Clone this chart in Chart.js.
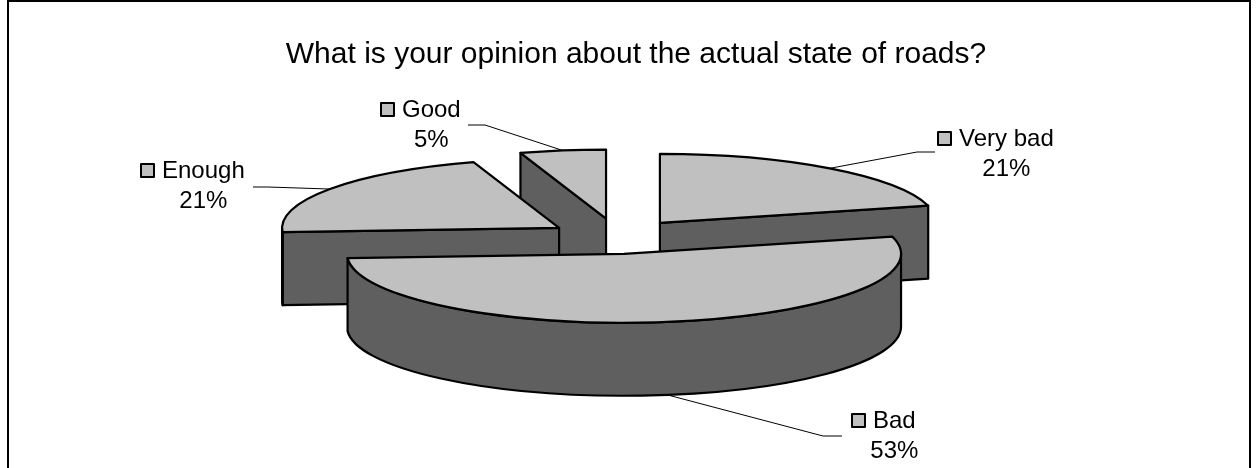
<!DOCTYPE html>
<html>
<head>
<meta charset="utf-8">
<script src="https://cdn.jsdelivr.net/npm/chart.js@4/dist/chart.umd.min.js"></script>
<style>
  html, body { margin: 0; padding: 0; background: #ffffff; }
  #wrap { width: 1256px; height: 468px; position: relative; }
</style>
</head>
<body>
<div id="wrap"><canvas id="c" width="1256" height="468"></canvas></div>
<script>
// ---- data ----
const categories = ['Very bad', 'Bad', 'Enough', 'Good'];
const percentValues = [21, 53, 21, 5];
const explodeOffsets = [70, 45, 70, 70];
const titleText = 'What is your opinion about the actual state of roads?';

// ---- label placement (text only) ----
const labelLayout = [
  { nameX: 959, nameY: 139, elbow: [917, 152], end: [935, 152] },
  { nameX: 873, nameY: 421, elbow: [823, 436], end: [842, 436] },
  { nameX: 162, nameY: 171, elbow: [268, 187], end: [253, 187] },
  { nameX: 402, nameY: 110, elbow: [485, 125], end: [468, 125] }
];

const FONT = "'Liberation Sans', Arial, sans-serif";
const TOP_COLOR = '#C0C0C0';
const SIDE_COLOR = '#5F5F5F';
const CX = 617, CY = 240;      // projected pie centre
const K = 0.249;               // ellipse squash
const KOFF = 0.31;             // squash of explosion offsets
const DEPTH = 73;

const pie3d = {
  id: 'pie3d',
  beforeDatasetsDraw(chart) {
    const ctx = chart.ctx;
    const meta = chart.getDatasetMeta(0);
    const items = meta.data.map((arc, i) => {
      const p = arc.getProps(['startAngle', 'endAngle', 'outerRadius'], true);
      const mid = (p.startAngle + p.endAngle) / 2;
      const off = arc.options.offset || 0;
      return {
        i, s: p.startAngle, e: p.endAngle, R: p.outerRadius, mid,
        ax: CX + off * Math.cos(mid),
        ay: CY + off * Math.sin(mid) * KOFF
      };
    });
    const P = (it, a, dz) => [it.ax + it.R * Math.cos(a), it.ay + K * it.R * Math.sin(a) + (dz || 0)];
    ctx.save();
    ctx.lineWidth = 2.2;
    ctx.lineJoin = 'round';
    ctx.strokeStyle = '#000';
    const order = items.slice().sort((a, b) => Math.sin(a.mid) - Math.sin(b.mid));
    order.forEach(it => {
      // radial faces
      const faces = [];
      if (Math.cos(it.s) < -1e-6) faces.push(it.s);
      if (Math.cos(it.e) > 1e-6) faces.push(it.e);
      faces.forEach(a => {
        const r = P(it, a);
        ctx.beginPath();
        ctx.moveTo(it.ax, it.ay);
        ctx.lineTo(r[0], r[1]);
        ctx.lineTo(r[0], r[1] + DEPTH);
        ctx.lineTo(it.ax, it.ay + DEPTH);
        ctx.closePath();
        ctx.fillStyle = SIDE_COLOR;
        ctx.fill();
        ctx.stroke();
      });
      // outer wall (front half only)
      [[0, Math.PI], [2 * Math.PI, 3 * Math.PI], [-2 * Math.PI, -Math.PI]].forEach(([lo, hi]) => {
        const a = Math.max(it.s, lo), b = Math.min(it.e, hi);
        if (b - a > 1e-4) {
          const pa = P(it, a), pb = P(it, b);
          ctx.beginPath();
          ctx.moveTo(pa[0], pa[1]);
          ctx.ellipse(it.ax, it.ay, it.R, it.R * K, 0, a, b, false);
          ctx.lineTo(pb[0], pb[1] + DEPTH);
          ctx.ellipse(it.ax, it.ay + DEPTH, it.R, it.R * K, 0, b, a, true);
          ctx.closePath();
          ctx.fillStyle = SIDE_COLOR;
          ctx.fill();
          ctx.stroke();
        }
      });
      // top face
      const ps = P(it, it.s);
      ctx.beginPath();
      ctx.moveTo(it.ax, it.ay);
      ctx.lineTo(ps[0], ps[1]);
      ctx.ellipse(it.ax, it.ay, it.R, it.R * K, 0, it.s, it.e, false);
      ctx.closePath();
      ctx.fillStyle = TOP_COLOR;
      ctx.fill();
      ctx.stroke();
    });

    // labels + leader lines
    items.forEach(it => {
      const L = labelLayout[it.i];
      const front = Math.sin(it.mid) > 0;
      const anchor = P(it, it.mid, front ? DEPTH : 0);
      ctx.beginPath();
      ctx.lineWidth = 1;
      ctx.moveTo(anchor[0], anchor[1]);
      ctx.lineTo(L.elbow[0], L.elbow[1]);
      ctx.lineTo(L.end[0], L.end[1]);
      ctx.stroke();

      ctx.font = '24px ' + FONT;
      ctx.fillStyle = '#000';
      ctx.textBaseline = 'middle';
      ctx.textAlign = 'left';
      const name = chart.data.labels[it.i];
      ctx.fillText(name, L.nameX, L.nameY);
      const w = ctx.measureText(name).width;
      // legend key square
      ctx.lineWidth = 2;
      ctx.fillStyle = TOP_COLOR;
      ctx.fillRect(L.nameX - 21, L.nameY - 7, 13, 13);
      ctx.strokeRect(L.nameX - 21, L.nameY - 7, 13, 13);
      ctx.fillStyle = '#000';
      ctx.textAlign = 'center';
      ctx.fillText(chart.data.datasets[0].data[it.i] + '%', L.nameX + w / 2, L.nameY + 30);
    });
    ctx.restore();
    return false;
  },
  afterDraw(chart) {
    const ctx = chart.ctx;
    ctx.save();
    ctx.lineWidth = 2;
    ctx.strokeStyle = '#000';
    ctx.strokeRect(8, 1, 1242, 500);
    ctx.restore();
  }
};

new Chart(document.getElementById('c'), {
  type: 'pie',
  data: {
    labels: categories,
    datasets: [{
      data: percentValues,
      offset: explodeOffsets,
      radius: 277,
      backgroundColor: TOP_COLOR,
      borderColor: '#000',
      borderWidth: 2
    }]
  },
  options: {
    responsive: false,
    animation: false,
    events: [],
    layout: { padding: { left: 16, right: 0, top: 0, bottom: 0 } },
    plugins: {
      legend: { display: false },
      tooltip: { enabled: false },
      title: {
        display: true,
        text: titleText,
        color: '#000',
        font: { family: FONT, size: 30, weight: 'normal' },
        padding: { top: 37, bottom: 10 }
      }
    }
  },
  plugins: [pie3d]
});
</script>
</body>
</html>
